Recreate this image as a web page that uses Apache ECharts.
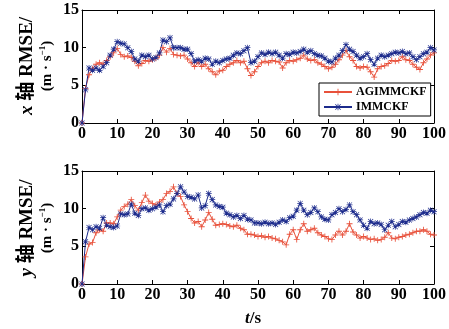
<!DOCTYPE html>
<html>
<head>
<meta charset="utf-8">
<script src="https://cdn.jsdelivr.net/npm/echarts@6/dist/echarts.min.js"></script>
<style>
  html, body { margin: 0; background: #fff; }
  #chart { width: 449px; height: 329px; }
</style>
</head>
<body>
<div id="chart"></div>
<script>
// 时间 t/s
const timeS = Array.from({ length: 101 }, (_, i) => i);
const legendNames = ['AGIMMCKF', 'IMMCKF'];
const xTicks = [0, 10, 20, 30, 40, 50, 60, 70, 80, 90, 100];
const yTicks = [0, 5, 10, 15];

// x 轴 RMSE
const xAgimmckf = [
  0, 4.6, 6.4, 7.2, 7.8, 8.0, 7.8, 8.3, 8.8, 9.3,
  9.9, 9.1, 8.8, 8.9, 8.7, 8.2, 7.6, 7.9, 8.3, 8.2,
  8.4, 8.6, 9.0, 10.0, 9.4, 9.9, 9.1, 9.0, 8.9, 9.0,
  8.5, 8.0, 7.5, 8.0, 7.5, 7.8, 7.2, 6.8, 6.4, 6.9,
  7.0, 7.5, 7.8, 8.0, 8.3, 8.0, 8.2, 7.2, 6.3, 6.8,
  7.5, 8.0, 8.2, 8.0, 8.3, 8.2, 8.1, 7.3, 8.0, 8.3,
  8.2, 8.4, 8.6, 9.0, 8.5, 8.3, 8.4, 8.0, 7.8, 7.5,
  7.2, 7.4, 7.8, 8.4, 9.0, 9.6, 8.8, 8.3, 7.5, 7.3,
  7.5, 7.4, 6.8, 6.1, 7.2, 7.5, 7.6, 7.9, 8.3, 8.2,
  8.3, 8.8, 8.4, 8.3, 7.8, 7.4, 7.1, 8.0, 8.5, 9.0,
  9.3
];
const xImmckf = [
  0, 4.4, 7.3, 7.0, 7.3, 7.0, 7.5, 8.0, 9.0, 9.8,
  10.8, 10.6, 10.5, 10.0, 9.5, 8.5, 8.2, 9.0, 8.8, 9.0,
  8.5, 8.7, 9.3, 11.0, 10.8, 11.3, 10.0, 10.0, 10.0, 9.8,
  9.8, 9.2, 8.2, 8.4, 8.2, 8.6, 8.5, 7.8, 8.2, 8.0,
  8.3, 8.5, 8.6, 9.0, 9.3, 9.2, 9.6, 10.0, 8.0, 8.2,
  8.8, 9.3, 9.1, 9.4, 9.2, 9.4, 9.0, 8.6, 9.2, 9.1,
  9.4, 9.3, 9.5, 9.8, 9.4, 9.6, 9.2, 9.0, 8.9, 8.6,
  8.2, 8.1, 8.6, 9.0, 9.6, 10.4, 9.8, 9.5, 9.0, 8.6,
  8.8, 9.2, 8.4, 7.8, 8.6, 9.0, 8.8, 9.0, 9.2, 9.4,
  9.3, 9.5, 9.2, 9.3, 8.8, 8.4, 8.8, 9.2, 9.4, 10.0,
  9.7
];

// y 轴 RMSE
const yAgimmckf = [
  0, 3.6, 5.3, 5.5, 6.8, 7.2, 7.0, 8.1, 8.1, 8.0,
  8.9, 9.8, 10.3, 10.6, 11.2, 10.4, 9.8, 10.8, 11.8, 11.0,
  10.7, 10.5, 10.9, 11.2, 12.0, 12.3, 12.9, 12.0, 11.6, 10.5,
  9.6, 8.7, 8.1, 8.3, 7.6, 8.5, 9.5, 8.6, 7.8, 7.9,
  8.0, 7.9, 7.7, 7.6, 7.8, 7.4, 7.2, 6.6, 6.6, 6.5,
  6.3, 6.4, 6.2, 6.3, 6.1, 6.0, 5.8, 5.6, 5.2, 6.6,
  7.2, 5.9, 7.2, 8.0, 7.0, 7.2, 7.4, 6.8, 6.5, 6.3,
  6.0, 5.9, 6.5, 7.0, 6.5, 7.0, 8.0, 6.9, 6.5, 6.1,
  6.3, 6.1, 5.9, 6.0, 5.8, 5.9, 6.2, 6.8, 6.1, 6.0,
  6.2, 6.3, 6.5, 6.6, 6.8, 7.0, 7.0, 7.2, 7.0, 6.6,
  6.5
];
const yImmckf = [
  0, 5.6, 7.5, 7.2, 7.6, 7.4, 8.8, 7.8, 7.6, 7.5,
  7.7, 9.3, 9.2, 9.3, 10.6, 9.4, 9.1, 10.0, 10.1, 9.8,
  10.0, 10.2, 10.5, 9.6, 10.4, 10.6, 11.3, 12.0, 12.9, 12.2,
  11.6, 11.5, 11.3, 11.8, 10.1, 10.4, 12.0, 11.2, 10.5, 10.3,
  10.2, 9.4, 9.2, 8.9, 9.1, 8.7, 9.1, 8.6, 8.5, 8.1,
  8.1, 8.0, 8.2, 8.0, 8.1, 7.9, 8.2, 8.5, 8.3, 8.8,
  9.0, 9.8, 10.7, 9.8, 9.2, 9.5, 10.1, 9.6, 8.9, 8.6,
  8.5, 9.2, 9.5, 10.0, 9.6, 9.9, 10.5, 9.6, 9.2, 8.5,
  7.8, 7.4, 8.3, 8.0, 8.1, 7.9, 7.2, 7.8, 8.3, 7.6,
  7.9, 8.3, 8.2, 8.5, 8.7, 8.9, 9.2, 9.5, 9.4, 9.8,
  9.6
];

const RED = '#e8513b';
const BLUE = '#1c2b8c';
const FONT = '"Liberation Serif", "Times New Roman", "Noto Sans CJK SC", serif';
const PLUS = 'path://M4.3,0h1.4v4.3h4.3v1.4h-4.3v4.3h-1.4v-4.3h-4.3v-1.4h4.3z';
const STAR = 'path://M4.4,0h1.2v10h-1.2z M0,4.4h10v1.2h-10z M1.2,0.4L9.6,8.8L8.8,9.6L0.4,1.2z M8.8,0.4L9.6,1.2L1.2,9.6L0.4,8.8z';

function pairs(vals) {
  return timeS.map((t, i) => [t, vals[i]]);
}

function xAxes(gi) {
  const base = {
    type: 'value', gridIndex: gi, min: 0, max: 100, interval: 10,
    axisLine: { onZero: false, lineStyle: { color: '#000', width: 1 } },
    axisTick: { inside: true, length: 4, lineStyle: { color: '#000' } },
    splitLine: { show: false }
  };
  return [
    Object.assign({}, base, {
      position: 'bottom',
      axisLabel: { margin: 3, color: '#000', fontFamily: FONT, fontSize: 16, fontWeight: 'bold' }
    }),
    Object.assign({}, base, { position: 'top', axisLabel: { show: false } })
  ];
}

function yAxes(gi) {
  const base = {
    type: 'value', gridIndex: gi, min: 0, max: 15, interval: 5,
    axisLine: { show: true, onZero: false, lineStyle: { color: '#000', width: 1 } },
    axisTick: { show: true, inside: true, length: 4, lineStyle: { color: '#000' } },
    splitLine: { show: false }
  };
  return [
    Object.assign({}, base, {
      position: 'left',
      axisLabel: { margin: 3, color: '#000', fontFamily: FONT, fontSize: 16, fontWeight: 'bold' }
    }),
    Object.assign({}, base, { position: 'right', axisLabel: { show: false } })
  ];
}

function lineSeries(name, vals, gi, color, symbol) {
  return {
    name: name,
    type: 'line',
    xAxisIndex: gi * 2,
    yAxisIndex: gi * 2,
    data: pairs(vals),
    symbol: symbol,
    symbolSize: 6,
    showAllSymbol: true,
    lineStyle: { color: color, width: 1 },
    itemStyle: { color: color },
    animation: false
  };
}

function yName(lbl, cy) {
  return {
    type: 'text',
    x: 37, y: cy,
    rotation: Math.PI / 2,
    style: {
      text: '{i|' + lbl + '} {a|轴 RMSE/}\n{b|(m · s}{c|−1}{b|)}',
      align: 'center',
      verticalAlign: 'middle',
      fill: '#000',
      font: 'bold 19px ' + FONT,
      rich: {
        i: { fontFamily: FONT, fontSize: 19, fontStyle: 'italic', fontWeight: 'bold', lineHeight: 21 },
        a: { fontFamily: FONT, fontSize: 19, fontWeight: 'bold', lineHeight: 21 },
        b: { fontFamily: FONT, fontSize: 15, fontWeight: 'bold', lineHeight: 19 },
        c: { fontFamily: FONT, fontSize: 9, fontWeight: 'bold', verticalAlign: 'top', lineHeight: 19 }
      }
    }
  };
}

const chart = echarts.init(document.getElementById('chart'), null, { renderer: 'canvas' });

chart.setOption({
  backgroundColor: '#fff',
  animation: false,
  grid: [
    { left: 82, right: 14, top: 10, height: 113 },
    { left: 82, right: 14, top: 171, height: 113 }
  ],
  xAxis: xAxes(0).concat(xAxes(1)),
  yAxis: yAxes(0).concat(yAxes(1)),
  legend: {
    data: legendNames,
    left: 319, top: 83,
    orient: 'vertical',
    itemWidth: 28, itemHeight: 8, itemGap: 3,
    padding: [3, 4, 3, 4],
    borderColor: '#000', borderWidth: 1, borderRadius: 0,
    backgroundColor: '#fff',
    textStyle: { fontFamily: FONT, fontSize: 12, fontWeight: 'bold', color: '#000', padding: [0, 0, 0, -1] }
  },
  series: [
    lineSeries(legendNames[0], xAgimmckf, 0, RED, PLUS),
    lineSeries(legendNames[1], xImmckf, 0, BLUE, STAR),
    lineSeries(legendNames[0], yAgimmckf, 1, RED, PLUS),
    lineSeries(legendNames[1], yImmckf, 1, BLUE, STAR)
  ],
  graphic: [
    yName('x', 66),
    yName('y', 228),
    {
      type: 'text', x: 253, y: 319,
      style: {
        text: '{i|t}{n|/s}',
        align: 'center', verticalAlign: 'middle', fill: '#000',
        rich: {
          i: { fontFamily: FONT, fontSize: 17, fontStyle: 'italic', fontWeight: 'bold' },
          n: { fontFamily: FONT, fontSize: 17, fontWeight: 'bold' }
        }
      }
    }
  ]
});
</script>
</body>
</html>
